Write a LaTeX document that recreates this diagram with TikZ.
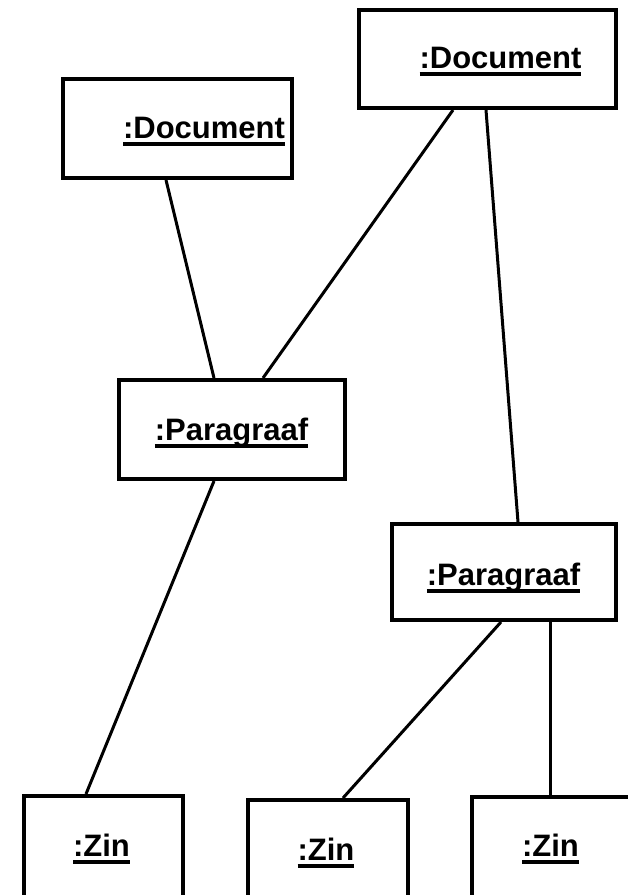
\documentclass[tikz,border=0pt]{standalone}
\usepackage{fontspec}
\setmainfont{Liberation Sans}
% thick underline drawn just below the baseline
\newcommand\ulbox[1]{\setbox0\hbox{#1}\rlap{\vrule height -3.5pt depth 7.5pt width \wd0}\box0}
\begin{document}
\begin{tikzpicture}[x=1pt,y=-1pt,
  objbox/.style={draw, rectangle, line width=4pt, inner sep=0pt},
  objname/.style={anchor=base, inner sep=0pt, font=\fontsize{31}{37}\selectfont\bfseries},
  link/.style={line width=3pt}]
\clip (0,0) rectangle (628,895);

% object boxes
\node[objbox, minimum width=257pt, minimum height=98pt] (docR) at (487.5,59) {};
\node[objbox, minimum width=229pt, minimum height=99pt] (docL) at (177.5,128.5) {};
\node[objbox, minimum width=226pt, minimum height=99pt] (par1) at (232,429.5) {};
\node[objbox, minimum width=224pt, minimum height=96pt] (par2) at (504,572) {};
\node[objbox, minimum width=159pt, minimum height=120pt] (zin1) at (103.5,856) {};
\node[objbox, minimum width=160pt, minimum height=120pt] (zin2) at (328,860) {};
\node[objbox, minimum width=160pt, minimum height=120pt] (zin3) at (552,857) {};

% object names
\node[objname] (tdocR) at (500.5,68) {\ulbox{:Document}};
\node[objname] (tdocL) at (204,138) {\ulbox{:Document}};
\node[objname] (tpar1) at (231.5,440) {\ulbox{:Paragraaf}};
\node[objname] (tpar2) at (503.5,585) {\ulbox{:Paragraaf}};
\node[objname] (tzin1) at (101.5,856) {\ulbox{:Zin}};
\node[objname] (tzin2) at (326,860) {\ulbox{:Zin}};
\node[objname] (tzin3) at (550.5,856) {\ulbox{:Zin}};

% links
\draw[link] ([xshift=105pt]docL.south west) -- ([xshift=97pt]par1.north west);
\draw[link] ([xshift=96pt]docR.south west) -- ([xshift=146pt]par1.north west);
\draw[link] ([xshift=129pt]docR.south west) -- ([xshift=128pt]par2.north west);
\draw[link] ([xshift=97pt]par1.south west) -- ([xshift=64pt]zin1.north west);
\draw[link] ([xshift=111pt]par2.south west) -- ([xshift=97pt]zin2.north west);
\draw[link] ([xshift=160pt]par2.south west) -- ([xshift=80pt]zin3.north west);
\end{tikzpicture}
\end{document}
